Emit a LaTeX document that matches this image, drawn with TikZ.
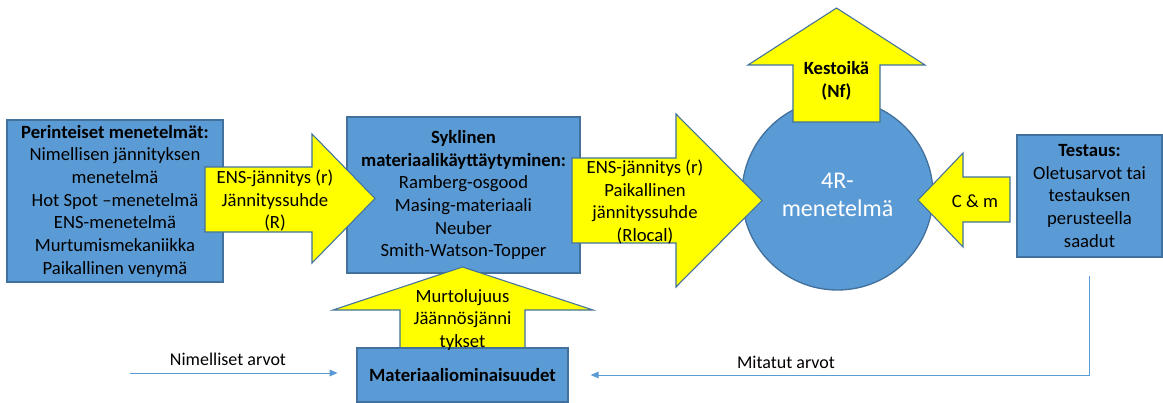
\documentclass[tikz,border=0pt]{standalone}
\usepackage{fontspec}
\setmainfont{Carlito}
\usetikzlibrary{arrows.meta}
\definecolor{boxblue}{RGB}{91,155,213}
\definecolor{edgeblue}{RGB}{65,113,156}
\definecolor{arrowyellow}{RGB}{255,255,0}
\tikzset{
  bluebox/.style={draw=edgeblue, fill=boxblue, line width=1pt, align=center, inner sep=0pt, font=\fontsize{14}{17}\selectfont},
  yellowarrow/.style={draw=edgeblue, fill=arrowyellow, line width=0.8pt, line join=miter},
  txt/.style={align=center, inner sep=0pt, font=\fontsize{14}{17}\selectfont},
  thinline/.style={draw=boxblue, line width=0.75pt, -{Triangle[length=6pt,width=5pt]}}
}
\begin{document}
\begin{tikzpicture}[x=0.75pt,y=-0.75pt]
\useasboundingbox (0,0) rectangle (1163,403);
\node[bluebox, minimum width=162pt, minimum height=121.5pt] (perint) at (115,201) {\textbf{Perinteiset menetelmät:}\\Nimellisen jännityksen\\menetelmä\\Hot Spot –menetelmä\\ENS-menetelmä\\Murtumismekaniikka\\Paikallinen venymä};
\node[bluebox, minimum width=174.75pt, minimum height=117pt] (syklinen) at (463.5,195) {\textbf{Syklinen}\\\textbf{materiaalikäyttäytyminen:}\\Ramberg-osgood\\Masing-materiaali\\Neuber\\Smith-Watson-Topper};
\node[bluebox, circle, minimum size=143.25pt, text=white, font=\fontsize{18}{21}\selectfont] (neljar) at (837.5,194.5) {4R-\\menetelmä};
\node[bluebox, minimum width=108.75pt, minimum height=91.5pt] (testaus) at (1089.5,196) {\textbf{Testaus:}\\Oletusarvot tai\\testauksen\\perusteella\\saadut};
\draw[yellowarrow] (205,167) -- (312,167) -- (312,134) -- (375,198.5) -- (312,263) -- (312,232) -- (205,232) -- cycle;
\draw[yellowarrow] (572,158) -- (676,158) -- (676,114) -- (762,200.5) -- (676,287) -- (676,243) -- (572,243) -- cycle;
\draw[yellowarrow] (793,122) -- (793,65) -- (748,65) -- (836.5,8) -- (925,65) -- (880,65) -- (880,122) -- cycle;
\draw[yellowarrow] (1010,177) -- (963,177) -- (963,153) -- (918,200) -- (963,247) -- (963,222) -- (1010,222) -- cycle;
\draw[yellowarrow] (400,352) -- (400,310) -- (333,310) -- (462.5,267) -- (593,310) -- (525,310) -- (525,352) -- cycle;
\node[txt] (ensr) at (275,200.5) {ENS-jännitys (r)\\Jännityssuhde\\(R)};
\node[txt] (enslocal) at (645,202) {ENS-jännitys (r)\\Paikallinen\\jännityssuhde\\(Rlocal)};
\node[txt, font=\fontsize{14}{17}\selectfont\bfseries] (kestoika) at (836.5,81) {Kestoikä\\(Nf)};
\node[txt] (cm) at (975,201) {C \& m};
\node[bluebox, minimum width=158.25pt, minimum height=40.5pt, font=\fontsize{14}{17}\selectfont\bfseries] (mater) at (462.5,375) {Materiaaliominaisuudet};
\node[txt] (murto) at (462.5,320) {Murtolujuus\\Jäännösjänni\\tykset};
\coordinate (nimstart) at (130,373);
\draw[thinline, shorten >=14pt] (nimstart) -- (nimstart -| mater.west);
\draw[thinline, shorten <=13.5pt, shorten >=16.5pt] (testaus.south) |- (mater.east);
\node[txt, font=\fontsize{13.5}{16}\selectfont] (nimlabel) at (228,359) {Nimelliset arvot};
\node[txt, font=\fontsize{13.5}{16}\selectfont] (mitlabel) at (786,362) {Mitatut arvot};
\end{tikzpicture}
\end{document}
